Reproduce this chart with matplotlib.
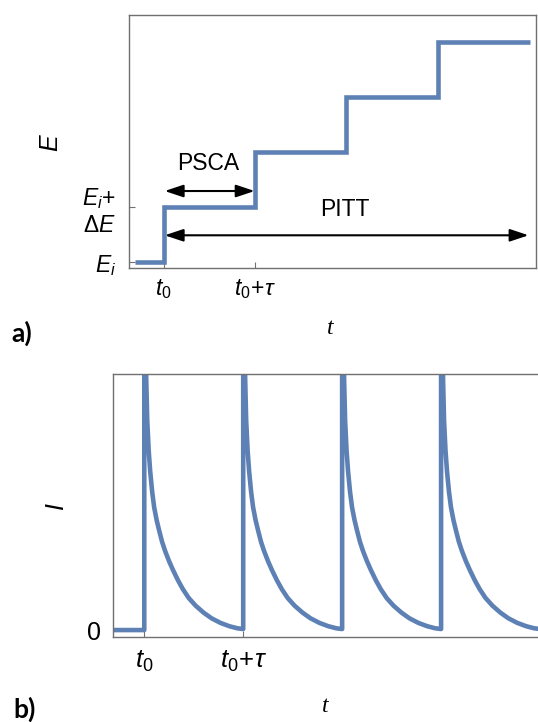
import matplotlib
matplotlib.use("Agg")
import matplotlib.pyplot as plt
import numpy as np

# ---------------- data ----------------
# panel a: potential staircase
step_edges = [0.685, 1, 2, 3, 4, 5.014]      # t values (t0 = 1, tau = 1)
step_levels = [0, 1, 2, 3, 4]                 # E in units of dE above E_i
a_xticks = [1, 2]
a_xticklabels = [r'$t_0$', r'$t_0\!+\!\tau$']
a_yticks = [0, 1]
a_yticklabels = [r'$E_i$', r'$E_i$+' + '\n' + r'$\Delta E$']

# panel b: current transients (one decay shape repeated after each step)
pulse_times = [1, 2, 3, 4]
decay_dt = [0.0, 0.01, 0.02, 0.03, 0.045, 0.06, 0.08, 0.10, 0.125, 0.15, 0.18, 0.21,
            0.25, 0.29, 0.34, 0.39, 0.45, 0.52, 0.60, 0.68, 0.77, 0.86, 0.94, 1.0]
decay_I = [1.6, 1.25, 0.98, 0.82, 0.70, 0.62, 0.54, 0.48, 0.43, 0.39, 0.345, 0.31,
           0.27, 0.235, 0.195, 0.16, 0.125, 0.095, 0.068, 0.046, 0.028, 0.015, 0.007, 0.004]
b_start = 0.687
b_xticks = [1, 2]
b_xticklabels = [r'$t_0$', r'$t_0\!+\!\tau$']
b_yticks = [0]
b_yticklabels = ['0']

# ---------------- style ----------------
plt.rcParams['font.family'] = ['Liberation Sans', 'DejaVu Sans']
plt.rcParams['mathtext.fontset'] = 'custom'
plt.rcParams['mathtext.rm'] = 'Liberation Sans'
plt.rcParams['mathtext.it'] = 'Liberation Sans:italic'
plt.rcParams['mathtext.bf'] = 'Liberation Sans:bold'

BLUE = '#5e81b5'
SPINE = '#707070'
W, H = 538, 722
fig = plt.figure(figsize=(W / 100, H / 100), dpi=100)


def px_axes(left, top, right, bottom):
    return fig.add_axes([left / W, 1 - bottom / H, (right - left) / W, (bottom - top) / H])


def style(ax):
    for s in ax.spines.values():
        s.set_color(SPINE)
        s.set_linewidth(1.0)
    ax.tick_params(direction='in', length=4.5, width=0.8, color=SPINE,
                   top=False, right=False)


# ---------------- panel a ----------------
axa = px_axes(128.7, 14.5, 536.4, 268.3)
style(axa)
axa.step(step_edges, step_levels + [step_levels[-1]], where='post', color=BLUE,
         lw=3.3, solid_capstyle='butt', solid_joinstyle='miter')
axa.set_xlim(0.6167, 5.082)
axa.set_ylim(-0.109, 4.505)
axa.set_xticks(a_xticks, a_xticklabels, fontsize=16.5)
axa.set_yticks(a_yticks, a_yticklabels, fontsize=16.5)
axa.tick_params(axis='x', pad=6)
axa.tick_params(axis='y', pad=9)

arrow_kw = dict(arrowstyle='<|-|>,head_length=0.75,head_width=0.25', color='black',
                lw=1.5, shrinkA=0, shrinkB=0, mutation_scale=15)
axa.annotate('', xy=(1.996, 1.296), xytext=(1.011, 1.296), arrowprops=arrow_kw)
axa.annotate('', xy=(4.996, 0.491), xytext=(1.011, 0.491), arrowprops=arrow_kw)
axa.text(1.485, 1.80, 'PSCA', fontsize=16.5, ha='center', va='center')
axa.text(2.986, 0.951, 'PITT', fontsize=16.5, ha='center', va='center')

fig.text(51.5 / W, 1 - 143 / H, r'$E$', rotation=90, fontsize=18, ha='center', va='center')
fig.text(330 / W, 1 - 328 / H, 't', fontsize=17, fontstyle='italic',
         family=['Liberation Serif', 'DejaVu Serif'], ha='center', va='center')
fig.text(22 / W, 1 - 333 / H, 'a)', fontsize=19, fontweight='bold', family=['Lato', 'DejaVu Sans'],
         ha='center', va='center')

# ---------------- panel b ----------------
axb = px_axes(113.3, 374.3, 570, 636.7)
style(axb)
bt = [b_start, pulse_times[0]]
bi = [0, 0]
for p in pulse_times:
    bt += [p + d for d in decay_dt]
    bi += list(decay_I)
axb.plot(bt, bi, color=BLUE, lw=3.3, solid_capstyle='butt', solid_joinstyle='round')
axb.set_xlim(b_start, 5.303)
axb.set_ylim(-0.026, 1.0)
axb.set_xticks(b_xticks, b_xticklabels, fontsize=18.5)
axb.set_yticks(b_yticks, b_yticklabels, fontsize=18)
axb.tick_params(axis='x', pad=9)
axb.tick_params(axis='y', pad=9)

fig.text(56.6 / W, 1 - 507 / H, r'$I$', rotation=90, fontsize=18, ha='center', va='center')
fig.text(325 / W, 1 - 707 / H, 't', fontsize=17, fontstyle='italic',
         family=['Liberation Serif', 'DejaVu Serif'], ha='center', va='center')
fig.text(25 / W, 1 - 709 / H, 'b)', fontsize=19, fontweight='bold', family=['Lato', 'DejaVu Sans'],
         ha='center', va='center')

fig.savefig('out.png', dpi=100)
